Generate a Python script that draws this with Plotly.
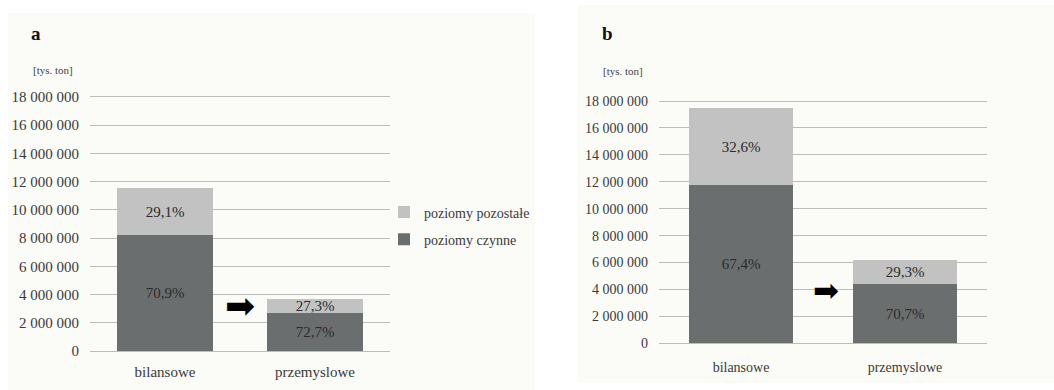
import plotly.graph_objects as go

# Resources by category (thousand tonnes) and share of active / remaining levels
categories = ["bilansowe", "przemyslowe"]

totals_a = [11_550_000, 3_720_000]
pct_czynne_a = [70.9, 72.7]
pct_pozostale_a = [29.1, 27.3]

totals_b = [17_450_000, 6_200_000]
pct_czynne_b = [67.4, 70.7]
pct_pozostale_b = [32.6, 29.3]

tick_values = [0, 2_000_000, 4_000_000, 6_000_000, 8_000_000, 10_000_000,
               12_000_000, 14_000_000, 16_000_000, 18_000_000]

series_names = ["poziomy czynne", "poziomy pozostałe"]
colors = ["#6b6e6e", "#c2c2c2"]
legend_ranks = [2, 1]

FONT = "'Liberation Serif', 'Times New Roman', serif"


def parts(totals, pcts):
    return [t * p / 100 for t, p in zip(totals, pcts)]


def pct_text(pcts):
    return [f"{p:.1f}%".replace(".", ",") for p in pcts]


fig = go.Figure()

panels = [
    ("x", "y", totals_a, pct_czynne_a, pct_pozostale_a, True, 0.64),
    ("x2", "y2", totals_b, pct_czynne_b, pct_pozostale_b, False, 0.63),
]

for xa, ya, totals, p_cz, p_po, show_leg, bw in panels:
    for name, color, rank, pcts in [(series_names[0], colors[0], legend_ranks[0], p_cz),
                                    (series_names[1], colors[1], legend_ranks[1], p_po)]:
        fig.add_trace(go.Bar(
            x=categories, y=parts(totals, pcts), name=name, legendgroup=name,
            legendrank=rank,
            marker=dict(color=color, line=dict(width=0)),
            text=pct_text(pcts), textposition="inside",
            insidetextanchor="middle", textangle=0,
            textfont=dict(family=FONT, size=15, color="#2b2b2b"),
            xaxis=xa, yaxis=ya, showlegend=show_leg,
            width=bw, hoverinfo="skip",
        ))

# headroom above 18 mln so the top gridline is kept; domains adjusted to match
Y_MAX = 18_100_000
y_range = [0, Y_MAX]


def y_domain(px_zero, px_18m):
    px_top = px_zero - (px_zero - px_18m) * Y_MAX / 18_000_000
    return [1 - px_zero / 390, 1 - px_top / 390]


axis_common = dict(
    range=y_range, tickvals=tick_values, tickformat=",d",
    showgrid=True, gridcolor="#bdbdbd", gridwidth=1,
    zeroline=False, showline=False, ticks="",
    fixedrange=True, automargin=False,
)
xaxis_common = dict(
    showline=True, linecolor="#bdbdbd", linewidth=1, ticks="",
    showgrid=False, fixedrange=True, automargin=False,
)

fig.update_layout(
    width=1054, height=390,
    margin=dict(l=0, r=0, t=0, b=0, autoexpand=False),
    paper_bgcolor="white", plot_bgcolor="rgba(0,0,0,0)",
    barmode="stack",
    separators=", ",
    uniformtext=dict(mode="show", minsize=15),
    font=dict(family=FONT, color="#3a3a3a"),
    xaxis=dict(domain=[90 / 1054, 390 / 1054], anchor="y", ticklabelstandoff=7,
               tickfont=dict(size=15, family=FONT, color="#3a3a3a"), **xaxis_common),
    yaxis=dict(domain=y_domain(351, 97), anchor="x",
               tickfont=dict(size=15, family=FONT, color="#3a3a3a"), ticklabelstandoff=10,
               **axis_common),
    xaxis2=dict(domain=[659 / 1054, 987 / 1054], anchor="y2", ticklabelstandoff=11,
                tickfont=dict(size=14, family=FONT, color="#3a3a3a"), **xaxis_common),
    yaxis2=dict(domain=y_domain(343.3, 101), anchor="x2",
                tickfont=dict(size=14, family=FONT, color="#3a3a3a"), ticklabelstandoff=10,
                **axis_common),
    legend=dict(x=384 / 1054, y=1 - 226 / 390, xanchor="left", yanchor="middle",
                traceorder="grouped", tracegroupgap=6,
                bgcolor="rgba(0,0,0,0)",
                font=dict(family=FONT, size=14, color="#3a3a3a"),
                itemwidth=30),
    shapes=[
        dict(type="rect", xref="paper", yref="paper", layer="below",
             x0=8 / 1054, x1=535 / 1054, y0=0, y1=1 - 13 / 390,
             fillcolor="#fbfbf7", line=dict(width=0)),
        dict(type="rect", xref="paper", yref="paper", layer="below",
             x0=578 / 1054, x1=1, y0=1 - 383 / 390, y1=1 - 5 / 390,
             fillcolor="#fbfbf7", line=dict(width=0)),
    ],
    annotations=[
        dict(text="<b>a</b>", xref="paper", yref="paper", x=36 / 1054, y=1 - 33 / 390,
             xanchor="center", yanchor="middle", showarrow=False,
             font=dict(family=FONT, size=19, color="#111")),
        dict(text="[tys. ton]", xref="paper", yref="paper", x=53 / 1054, y=1 - 70 / 390,
             xanchor="center", yanchor="middle", showarrow=False,
             font=dict(family=FONT, size=11, color="#444")),
        dict(text="<b>b</b>", xref="paper", yref="paper", x=607 / 1054, y=1 - 33 / 390,
             xanchor="center", yanchor="middle", showarrow=False,
             font=dict(family=FONT, size=19, color="#111")),
        dict(text="[tys. ton]", xref="paper", yref="paper", x=623 / 1054, y=1 - 71 / 390,
             xanchor="center", yanchor="middle", showarrow=False,
             font=dict(family=FONT, size=11, color="#444")),
        dict(text="➡", xref="x", yref="y", x=0.5, y=3_230_000,
             xanchor="center", yanchor="middle", showarrow=False,
             font=dict(family="DejaVu Sans", size=36, color="#000")),
        dict(text="➡", xref="x2", yref="y2", x=0.52, y=3_960_000,
             xanchor="center", yanchor="middle", showarrow=False,
             font=dict(family="DejaVu Sans", size=31, color="#000")),
    ],
)

fig.write_html("out.html")
